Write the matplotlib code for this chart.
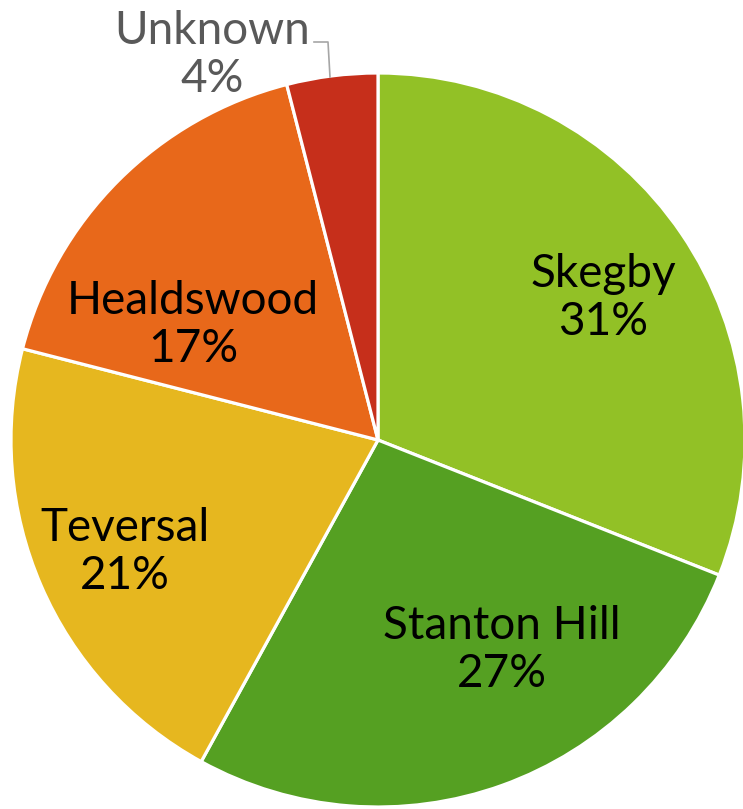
import matplotlib.pyplot as plt

# datos del gráfico
areas = ['Skegby', 'Stanton Hill', 'Teversal', 'Healdswood', 'Unknown']
percent = [31, 27, 21, 17, 4]
colores = ['#92C126', '#55A022', '#E6B71F', '#E8681A', '#C62F1B']

W, H = 743, 809
fig = plt.figure(figsize=(W / 100, H / 100), dpi=100)
ax = fig.add_axes([0, 0, 1, 1])

cx, cy, r = 378, H - 440, 367
ax.pie(percent, colors=colores, startangle=90, counterclock=False,
       center=(cx, cy), radius=r,
       wedgeprops=dict(edgecolor='white', linewidth=2.3))

# posiciones de las etiquetas (en pixeles de la imagen)
pos = [(603, 298), (502, 650), (125, 552), (193, 325), (212, 55)]
for nombre, p, (x, y) in zip(areas, percent, pos):
    col = '#595959' if nombre == 'Unknown' else 'black'
    ax.text(x, H - y, f'{nombre}\n{p}%', ha='center', va='center',
            fontsize=33, family='Lato', color=col, linespacing=1.15)

# linea guia de Unknown
ax.plot([314, 328, 330], [H - 42, H - 42, H - 77], color='#A6A6A6', lw=1.2)

ax.set_xlim(0, W)
ax.set_ylim(0, H)
ax.set_aspect('equal')
ax.axis('off')

plt.savefig('out.png', dpi=100)
